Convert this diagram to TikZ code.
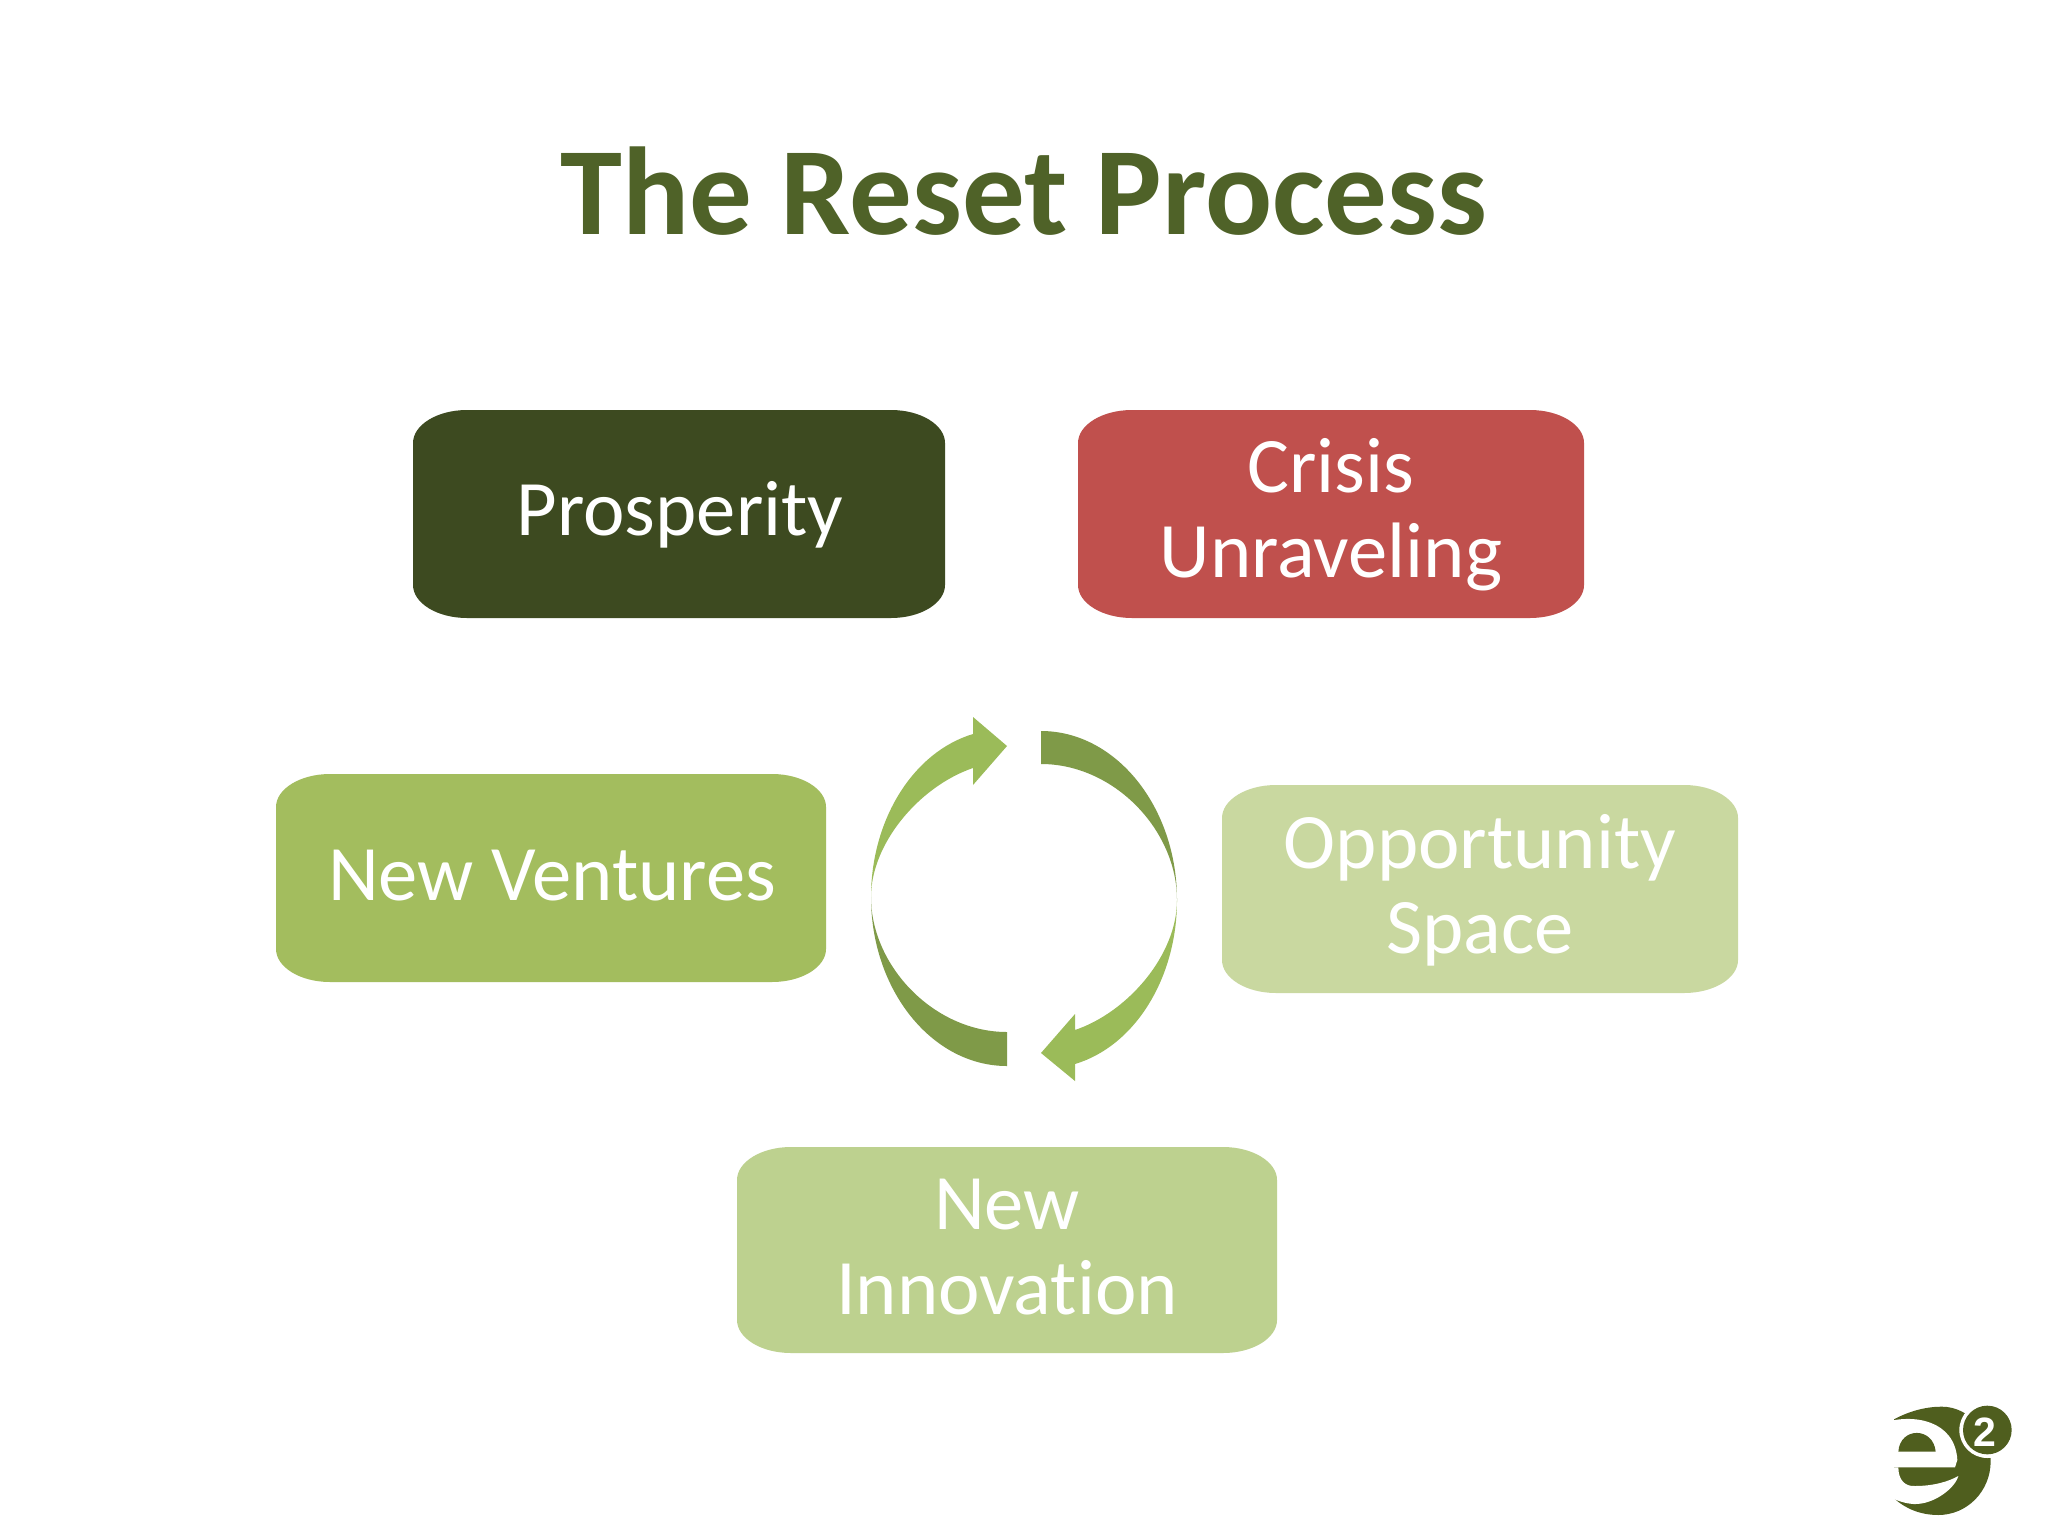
\documentclass[tikz,border=0pt]{standalone}
\usepackage{fontspec}
\setmainfont[Ligatures=CommonOff]{Carlito}
\newfontfamily\logofont{Liberation Sans}
\definecolor{titlegreen}{HTML}{4F6228}
\definecolor{boxdark}{HTML}{3D4A20}
\definecolor{boxred}{HTML}{C0504D}
\definecolor{boxventures}{HTML}{A3BD5E}
\definecolor{boxopp}{HTML}{C9D8A0}
\definecolor{boxinnov}{HTML}{BDD18F}
\definecolor{arrowlight}{HTML}{9BBB59}
\definecolor{arrowdark}{HTML}{7F9A48}
\definecolor{logogreen}{HTML}{4F5E1E}
\newcommand{\softbox}[5]{% x0 y0 x1 y1 colour
  \fill[#5] (#1+54,#2) -- (#3-54,#2) .. controls (#3-24,#2) and (#3,#2+15) .. (#3,#2+33)
    -- (#3,#4-33) .. controls (#3,#4-15) and (#3-24,#4) .. (#3-54,#4)
    -- (#1+54,#4) .. controls (#1+24,#4) and (#1,#4-15) .. (#1,#4-33)
    -- (#1,#2+33) .. controls (#1,#2+15) and (#1+24,#2) .. (#1+54,#2) -- cycle;}
\tikzset{
  boxlabel/.style={text=white,font=\fontsize{39.3}{42.5}\selectfont,align=center,inner sep=0pt},
  titlelabel/.style={text=titlegreen,font=\fontsize{62.5}{64}\selectfont\bfseries,inner sep=0pt}
}
\begin{document}
\begin{tikzpicture}[x=0.5pt,y=-0.5pt]
\fill[white] (0,0) rectangle (2048,1536);
\useasboundingbox (0,0) rectangle (2048,1536);
\node[titlelabel] (title) at (1024,191) {The Reset Process};
\softbox{413}{410}{945}{618}{boxdark}
\softbox{1078}{410}{1584}{618}{boxred}
\softbox{276}{774}{826}{982}{boxventures}
\softbox{1222}{785}{1738}{993}{boxopp}
\softbox{737}{1147}{1277}{1353}{boxinnov}
\node[boxlabel] (prosperity) at (680,515) {Prosperity};
\node[boxlabel] (crisis) at (1331,515) {Crisis\\Unraveling};
\node[boxlabel] (ventures) at (552,876) {New Ventures};
\node[boxlabel] (opportunity) at (1480,890) {Opportunity\\Space};
\node[boxlabel] (innovation) at (1007,1247) {New\\Innovation};
% cycle arrows
\fill[arrowlight] (871,897) .. controls (871,820) and (913,752) .. (973,734)
  -- (973,717) -- (1007,746) -- (973,785) -- (973,768)
  .. controls (920,786) and (871,843) .. (871,897) -- cycle;
\fill[arrowdark] (1041,731) .. controls (1116,731) and (1177,807) .. (1177,900)
  .. controls (1177,830) and (1114,764) .. (1041,764) -- cycle;
\fill[arrowlight] (1177,900) .. controls (1177,978) and (1135,1046) .. (1075,1064)
  -- (1075,1081) -- (1041,1053) -- (1075,1014) -- (1075,1030)
  .. controls (1128,1012) and (1177,955) .. (1177,900) -- cycle;
\fill[arrowdark] (1007,1066) .. controls (932,1066) and (871,990) .. (871,897)
  .. controls (871,966) and (934,1032) .. (1007,1032) -- cycle;
% logo
\begin{scope}[shift={(1870,1380)},scale=0.3333]
\fill[logogreen] (72,118) .. controls (120,92) and (170,80) .. (215,80)
  .. controls (300,80) and (362,160) .. (362,243)
  .. controls (362,335) and (290,405) .. (205,405)
  .. controls (150,405) and (105,385) .. (72,355) -- cycle;
\fill[white] (40,128) .. controls (130,100) and (255,120) .. (262,240) -- (255,262) -- (40,262) -- cycle;
\fill[logogreen] (85,215) .. controls (90,140) and (190,140) .. (197,215) -- cycle;
\fill[white] (40,262) -- (85,262) .. controls (85,300) and (105,320) .. (135,318)
  .. controls (190,318) and (235,305) .. (265,288)
  .. controls (255,325) and (190,375) .. (130,372) .. controls (105,370) and (90,365) .. (40,345) -- cycle;
\fill[white] (352,150) circle[radius=84];
\fill[logogreen] (352,150) circle[radius=73];
\node[text=white,font=\fontsize{20.5}{21}\selectfont\bfseries\logofont,inner sep=0pt] (logotwo) at (344,156) {2};
\end{scope}
\end{tikzpicture}
\end{document}
